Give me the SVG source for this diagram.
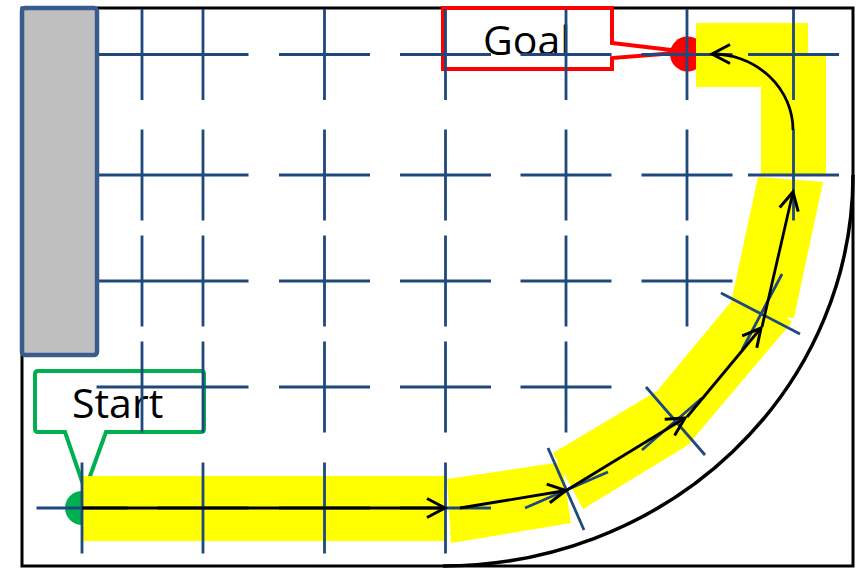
<svg xmlns="http://www.w3.org/2000/svg" width="859" height="568" viewBox="0 0 859 568">
<defs>
<style>
.grid{stroke:#1F497D;stroke-width:2.8;fill:none}
.arrow{stroke:#000;stroke-width:2.8;fill:none;marker-end:url(#ah)}
.yel{fill:#FFFF00}
.lbl{font-family:"Open Sans","Liberation Sans",sans-serif;font-size:41px;fill:#000}
</style>
<marker id="ah" markerUnits="userSpaceOnUse" viewBox="-22 -12 26 24" markerWidth="26" markerHeight="24" refX="0" refY="0" orient="auto" overflow="visible">
<path d="M-18,-9.5 L0,0 L-18,9.5" fill="none" stroke="#000" stroke-width="3"/>
</marker>
</defs>
<rect width="859" height="568" fill="#fff"/>
<g id="room">
<rect x="22" y="8" width="831" height="558" fill="none" stroke="#000" stroke-width="3"/>
<path d="M443,566 A410,391 0 0 0 853,175" fill="none" stroke="#000" stroke-width="3.5"/>
</g>
<g id="start">
<path d="M35,374 Q35,371 38,371 H201 Q204,371 204,374 V429 Q204,432 201,432 H106 L85,490 L65,432 H38 Q35,432 35,429 Z" fill="#fff" stroke="#00B050" stroke-width="4"/>
<text class="lbl" x="72" y="418">Start</text>
</g>
<g id="goal">
<path d="M443,8 H612 V43 L688,52 L612,58 V69 H443 Z" fill="#fff" stroke="#FF0000" stroke-width="4"/>
<text class="lbl" x="483" y="55">Goal</text>
</g>
<g id="start-point"><circle cx="82" cy="508" r="17" fill="#00B050"/></g>
<g id="goal-point"><circle cx="687.5" cy="54" r="17.5" fill="#FF0000"/></g>
<g id="route">
<rect class="yel" x="82" y="476" width="363" height="65"/>
<polygon class="yel" points="447,479 562,462 571,523 451,543"/>
<polygon class="yel" points="553,453 657,391 688,445 583,509"/>
<polygon class="yel" points="657,391 745,285 792,322 688,445"/>
<polygon class="yel" points="758,177 823,182 794,318 729,312"/>
<polygon class="yel" points="696,23 808,23 808,55 826,55 826,174 761,174 761,87 696,87"/>
</g>
<g id="grid">
<path class="grid" d="M96.5,54.5h91M142,9v91M157.5,54.5h91M203,9v91M279,54.5h91M324.5,9v91M400,54.5h91M445.5,9v91M520.5,54.5h91M566,9v91M641.5,54.5h91M687,9v91M748,54.5h91M793.5,9v91
M96.5,175h91M142,129.5v91M157.5,175h91M203,129.5v91M279,175h91M324.5,129.5v91M400,175h91M445.5,129.5v91M520.5,175h91M566,129.5v91M641.5,175h91M687,129.5v91M748,175h91M793.5,129.5v91
M96.5,281h91M142,235.5v91M157.5,281h91M203,235.5v91M279,281h91M324.5,235.5v91M400,281h91M445.5,235.5v91M520.5,281h91M566,235.5v91M641.5,281h91M687,235.5v91
M96.5,387h91M142,341.5v91M157.5,387h91M203,341.5v91M279,387h91M324.5,341.5v91M400,387h91M445.5,341.5v91M520.5,387h91M566,341.5v91
M36.5,508h91M82,462.5v91M157.5,508h91M203,462.5v91M279,508h91M324.5,462.5v91M400,508h91M445.5,462.5v91
M548,448L584,530M525,508L608,472M646,387L705,455M642,450L702,398M721,293L800,334M742,350L782,274"/>
</g>
<g id="wall">
<rect x="22" y="8" width="75" height="347" rx="3" fill="#BFBFBF" stroke="#385D8A" stroke-width="4.5"/>
</g>
<g id="connectors">
<path class="arrow" d="M82,508H445"/>
<path class="arrow" d="M460,508L566,490.5"/>
<path class="arrow" d="M567,490L685,418"/>
<path class="arrow" d="M687,417L761,328"/>
<path class="arrow" d="M762,327L793,192"/>
<path class="arrow" d="M793,130A81,76 0 0 0 712,54"/>
</g>
</svg>
